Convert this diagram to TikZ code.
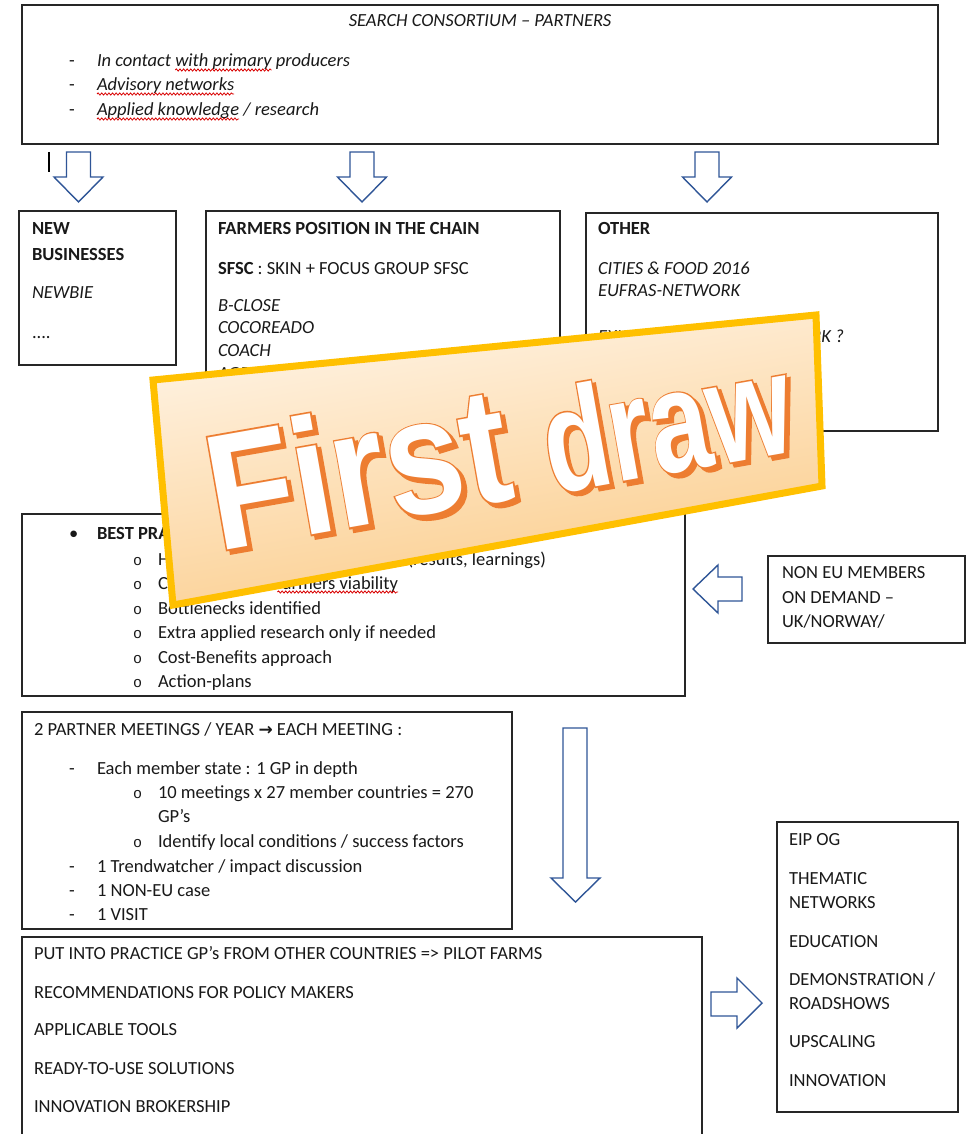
\documentclass[tikz,border=0pt]{standalone}
\usepackage{fontspec}
\setmainfont{Carlito}
\newfontfamily\djv{DejaVu Sans}
\newfontfamily\monof{Liberation Mono}
\newfontfamily\banfont{Liberation Sans Bold}
\newfontfamily\banout{Liberation Sans Bold}[FakeBold=2.2]
\usetikzlibrary{calc,decorations.pathmorphing}
\definecolor{arrowblue}{HTML}{2F5597}
\definecolor{gold}{HTML}{FFC000}
\definecolor{fdorange}{HTML}{ED7D31}
\definecolor{bantop}{HTML}{FFF4E6}
\definecolor{banbot}{HTML}{FBCB87}
\newcommand\mytl[4]{\node[tx] (#1) at (#2,#3) {#4};}
\newcommand\obul[2]{\node[tx] (#1) at (133,#2) {\monof\fontsize{15}{18}\selectfont o};}
\newcommand\dbul[2]{\node[tx] (#1) at (69,#2) {-};}
\begin{document}
\begin{tikzpicture}[x=1pt,y=-1pt,
  box/.style={draw=black!85, line width=1.3pt, fill=white, inner sep=0pt, outer sep=0pt, anchor=north west},
  tx/.style={anchor=base west, inner sep=0pt, outer sep=0pt, font=\fontsize{18.5}{22}\selectfont, text=black!90},
  blk/.style={draw=arrowblue, line width=1.4pt, fill=white, line join=miter},
  squig/.style={draw=red!85!black, line width=0.8pt, decorate, decoration={snake, amplitude=1.1pt, segment length=3.6pt}},
  fdw/.style={anchor=base west, inner sep=0pt, outer sep=0pt, rotate=10}
]
\useasboundingbox (0,0) rectangle (976,1134);
\fill[white] (0,0) rectangle (976,1134);

% ---------- boxes
\node[box, minimum width=916pt, minimum height=139pt] (bsearch) at (22,5) {};
\node[box, minimum width=157pt, minimum height=154pt] (bnew) at (19,211) {};
\node[box, minimum width=354pt, minimum height=229pt] (bfarm) at (206,211) {};
\node[box, minimum width=352pt, minimum height=218pt] (bother) at (586,213) {};
\node[box, minimum width=663pt, minimum height=182pt] (bbest) at (22,514) {};
\node[box, minimum width=197pt, minimum height=87pt] (bnoneu) at (768,556) {};
\node[box, minimum width=490pt, minimum height=217pt] (bmeet) at (22,712) {};
\node[box, minimum width=680pt, minimum height=215pt] (bprac) at (22,937) {};
\node[box, minimum width=181pt, minimum height=290pt] (beip) at (777,822) {};

% ---------- top box text
\node[tx, anchor=base] (ttitle) at (480,27) {\itshape SEARCH CONSORTIUM – PARTNERS};
\dbul{td1}{67}\dbul{td2}{91}\dbul{td3}{116}
\mytl{ti1a}{97}{67}{\itshape In contact\ \null}
\node[tx] (ti1b) at (ti1a.base east) {\itshape with primary};
\node[tx] (ti1c) at (ti1b.base east) {\itshape\ producers};
\mytl{ti2}{97}{91}{\itshape Advisory networks}
\mytl{ti3a}{97}{116}{\itshape Applied knowledge}
\node[tx] (ti3b) at (ti3a.base east) {\itshape\ / research};
\draw[squig] ($(ti1b.base west)+(0,3)$) -- ($(ti1b.base east)+(0,3)$);
\draw[squig] ($(ti2.base west)+(0,3)$) -- ($(ti2.base east)+(0,3)$);
\draw[squig] ($(ti3a.base west)+(0,3)$) -- ($(ti3a.base east)+(0,3)$);
\draw[line width=1.3pt, black] (49,152) -- (49,172);

% ---------- down arrows
\draw[blk] (66.5,152) -- (90.5,152) -- (90.5,177) -- (103,177) -- (78.5,202) -- (54,177) -- (66.5,177) -- cycle;
\draw[blk] (350,152) -- (374,152) -- (374,177) -- (386.5,177) -- (362,202) -- (337.5,177) -- (350,177) -- cycle;
\draw[blk] (695,152) -- (719,152) -- (719,177) -- (731.5,177) -- (707,202) -- (682.5,177) -- (695,177) -- cycle;

% ---------- new businesses
\mytl{tn1}{32}{234}{\bfseries NEW}
\mytl{tn2}{32}{260}{\bfseries BUSINESSES}
\mytl{tn3}{32}{298}{\itshape NEWBIE}
\mytl{tn4}{32}{338}{....}

% ---------- farmers
\mytl{tf1}{218}{234}{\bfseries FARMERS POSITION IN THE CHAIN}
\mytl{tf2}{218}{274}{\textbf{SFSC} : SKIN + FOCUS GROUP SFSC}
\mytl{tf3}{218}{311}{\itshape B-CLOSE}
\mytl{tf4}{218}{333}{\itshape COCOREADO}
\mytl{tf5}{218}{356}{\itshape COACH}
\mytl{tf6}{218}{379}{\itshape AGRI}

% ---------- other
\mytl{to1}{598}{234}{\bfseries OTHER}
\mytl{to2}{598}{274}{\itshape CITIES \& FOOD 2016}
\mytl{to3}{598}{296}{\itshape EUFRAS-NETWORK}
\mytl{to4}{598}{342}{\itshape EXISTING THEMATIC NETWORK ?}

% ---------- best practices
\begin{scope}
\clip (22,514) rectangle (685,689);
\mytl{tbb}{69}{539}{•}
\mytl{tb0}{97}{539}{\bfseries BEST PRACTICES}
\obul{tbo1}{565}\obul{tbo2}{589}\obul{tbo3}{614}\obul{tbo4}{638}\obul{tbo5}{663}\obul{tbo6}{687}
\mytl{tb1}{158}{565}{How it works, what is the impact (results, learnings)}
\mytl{tb2a}{158}{589}{Contribution to\ \null}
\node[tx] (tb2b) at (tb2a.base east) {farmers viability};
\mytl{tb3}{158}{614}{Bottlenecks identified}
\mytl{tb4}{158}{638}{Extra applied research only if needed}
\mytl{tb5}{158}{663}{Cost-Benefits approach}
\mytl{tb6}{158}{687}{Action-plans}
\end{scope}
\draw[squig] ($(tb2b.base west)+(0,3)$) -- ($(tb2b.base east)+(0,3)$);

% ---------- non EU
\mytl{tu1}{782}{578}{NON EU MEMBERS}
\mytl{tu2}{782}{603}{ON DEMAND –}
\mytl{tu3}{782}{627}{UK/NORWAY/}
\draw[blk] (693,589) -- (718,565) -- (718,577) -- (742,577) -- (742,601) -- (718,601) -- (718,613) -- cycle;

% ---------- meetings
\mytl{tm0}{34}{735}{2 PARTNER MEETINGS / YEAR {\djv\bfseries\fontsize{17}{18}\selectfont →} EACH MEETING :}
\dbul{tmd1}{774}
\mytl{tm1}{97}{774}{Each member state : 1 GP in depth}
\obul{tmo1}{798}
\mytl{tm2}{158}{798}{10 meetings x 27 member countries = 270}
\mytl{tm3}{158}{822}{GP’s}
\obul{tmo2}{847}
\mytl{tm4}{158}{847}{Identify local conditions / success factors}
\dbul{tmd2}{872}\dbul{tmd3}{896}\dbul{tmd4}{920}
\mytl{tm5}{97}{872}{1 Trendwatcher / impact discussion}
\mytl{tm6}{97}{896}{1 NON-EU case}
\mytl{tm7}{97}{920}{1 VISIT}
\draw[blk] (563,728) -- (587,728) -- (587,878) -- (600,878) -- (575.5,902) -- (551,878) -- (563,878) -- cycle;

% ---------- practice
\mytl{tp1}{34}{959}{PUT INTO PRACTICE GP’s FROM OTHER COUNTRIES => PILOT FARMS}
\mytl{tp2}{34}{998}{RECOMMENDATIONS FOR POLICY MAKERS}
\mytl{tp3}{34}{1035}{APPLICABLE TOOLS}
\mytl{tp4}{34}{1074}{READY-TO-USE SOLUTIONS}
\mytl{tp5}{34}{1112}{INNOVATION BROKERSHIP}
\draw[blk] (711,992) -- (737,992) -- (737,978) -- (762,1003) -- (737,1028) -- (737,1016) -- (711,1016) -- cycle;

% ---------- EIP
\mytl{te1}{789}{845}{EIP OG}
\mytl{te2}{789}{884}{THEMATIC}
\mytl{te3}{789}{908}{NETWORKS}
\mytl{te4}{789}{947}{EDUCATION}
\mytl{te5}{789}{985}{DEMONSTRATION /}
\mytl{te6}{789}{1009}{ROADSHOWS}
\mytl{te7}{789}{1047}{UPSCALING}
\mytl{te8}{789}{1086}{INNOVATION}

% ---------- banner
\coordinate (bTL) at (153,380);
\coordinate (bTR) at (816,315);
\coordinate (bBR) at (822,486);
\coordinate (bBL) at (173,605);
\shade[top color=bantop, bottom color=banbot, shading angle=10] (bTL) -- (bTR) -- (bBR) -- (bBL) -- cycle;
\draw[line width=7pt, draw=gold, line join=miter] (bTL) -- (bTR) -- (bBR) -- (bBL) -- cycle;
\coordinate (fdA) at (218,551);
\coordinate (fdB) at (552,494);
% shadow
\node[fdw, xscale=0.85, text=fdorange, font=\banout\fontsize{165}{165}\selectfont] (fsA) at ($(fdA)+(4,3.5)$) {First};
\node[fdw, xscale=0.74, text=fdorange, font=\banout\fontsize{145}{145}\selectfont] (fsB) at ($(fdB)+(4,3.5)$) {draw};
% outline
\node[fdw, xscale=0.85, text=fdorange, font=\banout\fontsize{165}{165}\selectfont] (foA) at (fdA) {First};
\node[fdw, xscale=0.74, text=fdorange, font=\banout\fontsize{145}{145}\selectfont] (foB) at (fdB) {draw};
% face
\node[fdw, xscale=0.85, text=white, font=\banfont\fontsize{165}{165}\selectfont] (fwA) at (fdA) {First};
\node[fdw, xscale=0.74, text=white, font=\banfont\fontsize{145}{145}\selectfont] (fwB) at (fdB) {draw};
\end{tikzpicture}
\end{document}
